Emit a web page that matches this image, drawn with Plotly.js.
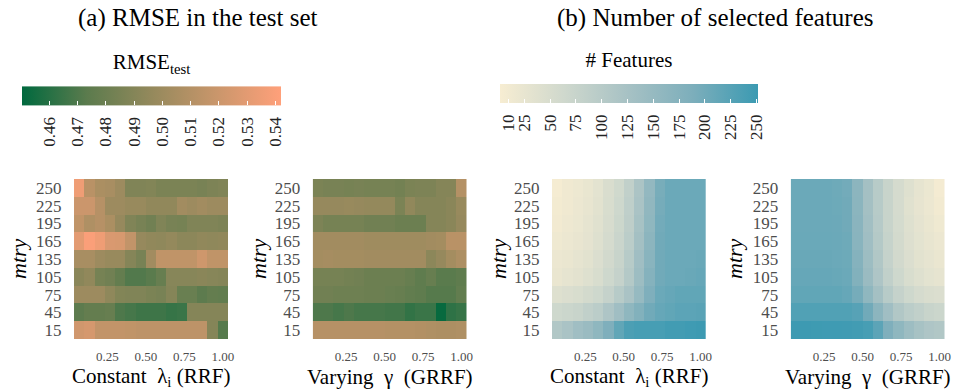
<!DOCTYPE html>
<html>
<head>
<meta charset="utf-8">
<script src="https://cdn.plot.ly/plotly-3.0.1.min.js"></script>
<style>html,body{margin:0;padding:0;background:#fff;}#chart{width:956px;height:392px;}</style>
</head>
<body>
<div id="chart"></div>
<script>
// x: lambda / gamma values (15 columns)
const xVals = [0.0667,0.1333,0.2,0.2667,0.3333,0.4,0.4667,0.5333,0.6,0.6667,0.7333,0.8,0.8667,0.9333,1.0];
// y: mtry categories (bottom to top)
const mtry = ['15','45','75','105','135','165','195','225','250'];

// RMSE test, RRF (constant lambda), rows follow mtry order
const rmseRRF = [
  [0.522,0.524,0.516,0.516,0.516,0.515,0.514,0.514,0.514,0.514,0.514,0.514,0.514,0.490,0.472],
  [0.474,0.477,0.477,0.478,0.470,0.468,0.466,0.466,0.466,0.464,0.465,0.490,0.490,0.490,0.490],
  [0.500,0.500,0.500,0.494,0.489,0.488,0.488,0.486,0.485,0.490,0.479,0.479,0.474,0.477,0.476],
  [0.492,0.495,0.484,0.482,0.477,0.471,0.471,0.473,0.478,0.491,0.491,0.491,0.492,0.491,0.490],
  [0.505,0.505,0.500,0.498,0.498,0.490,0.485,0.502,0.515,0.515,0.515,0.515,0.521,0.515,0.515],
  [0.530,0.540,0.535,0.526,0.525,0.516,0.497,0.495,0.494,0.496,0.493,0.493,0.495,0.494,0.495],
  [0.515,0.508,0.511,0.506,0.497,0.488,0.485,0.482,0.488,0.485,0.484,0.488,0.488,0.488,0.487],
  [0.520,0.520,0.511,0.500,0.500,0.498,0.498,0.495,0.495,0.495,0.502,0.500,0.502,0.500,0.500],
  [0.535,0.512,0.506,0.505,0.500,0.488,0.488,0.489,0.486,0.486,0.486,0.486,0.485,0.487,0.488]
];
// RMSE test, GRRF (varying gamma)
const rmseGRRF = [
  [0.511,0.511,0.511,0.511,0.511,0.511,0.511,0.510,0.510,0.510,0.509,0.508,0.507,0.507,0.508],
  [0.470,0.470,0.468,0.470,0.468,0.468,0.468,0.467,0.467,0.463,0.465,0.465,0.452,0.462,0.464],
  [0.482,0.482,0.481,0.481,0.481,0.480,0.480,0.479,0.478,0.476,0.475,0.472,0.472,0.472,0.476],
  [0.484,0.484,0.484,0.483,0.482,0.480,0.480,0.480,0.480,0.478,0.475,0.478,0.473,0.473,0.475],
  [0.503,0.504,0.503,0.503,0.503,0.502,0.502,0.502,0.502,0.502,0.502,0.493,0.497,0.503,0.507],
  [0.502,0.502,0.502,0.502,0.502,0.501,0.501,0.501,0.501,0.501,0.501,0.502,0.503,0.512,0.512],
  [0.487,0.484,0.484,0.484,0.484,0.482,0.482,0.482,0.480,0.480,0.480,0.490,0.490,0.492,0.497],
  [0.497,0.497,0.497,0.498,0.497,0.496,0.496,0.496,0.486,0.495,0.490,0.490,0.490,0.492,0.498],
  [0.486,0.485,0.485,0.484,0.485,0.484,0.484,0.484,0.483,0.486,0.487,0.487,0.490,0.490,0.510]
];
// Number of selected features, RRF
const featRRF = [
  [110,120,135,145,160,185,215,235,240,240,240,245,245,248,250],
  [65,70,75,85,95,115,135,160,180,200,210,215,220,220,222],
  [40,45,50,58,65,80,100,120,150,185,205,210,215,215,215],
  [22,28,33,40,50,65,80,105,140,175,200,205,205,207,210],
  [18,22,28,35,45,60,75,100,135,170,200,205,205,205,207],
  [14,18,24,30,40,55,72,95,130,165,200,205,205,205,205],
  [10,15,20,28,38,52,68,90,125,160,198,205,205,205,205],
  [8,13,18,25,35,50,65,88,120,158,195,205,205,205,205],
  [5,12,17,23,32,48,62,85,118,155,193,205,205,205,205]
];
// Number of selected features, GRRF
const featGRRF = [
  [250,250,249,248,248,247,245,240,220,185,160,140,125,115,110],
  [230,230,230,230,230,230,225,200,165,135,110,95,85,75,70],
  [215,215,215,215,215,210,195,160,130,100,80,65,55,48,45],
  [210,210,210,210,208,205,180,145,115,85,65,50,40,32,28],
  [207,207,207,207,205,203,175,140,110,80,60,45,35,28,22],
  [206,206,206,206,205,202,170,135,105,78,58,42,32,25,18],
  [205,205,205,205,204,200,168,132,102,75,56,40,30,22,14],
  [205,205,205,205,203,200,167,130,100,75,55,38,27,18,10],
  [205,205,205,205,202,198,165,130,100,75,55,40,28,20,6]
];

const rmseTicks = [0.46,0.47,0.48,0.49,0.50,0.51,0.52,0.53,0.54];
const featTicks = [10,25,50,75,100,125,150,175,200,225,250];

const serif = 'Liberation Serif';
const W = 956, H = 392;
const px = v => v / W;
const py = v => (H - v) / H;
const pad = '\u00a0';

const traces = [
  {type:'heatmap', x:xVals, y:mtry, z:rmseRRF, xaxis:'x', yaxis:'y', coloraxis:'coloraxis', hoverinfo:'skip'},
  {type:'heatmap', x:xVals, y:mtry, z:rmseGRRF, xaxis:'x2', yaxis:'y2', coloraxis:'coloraxis', hoverinfo:'skip'},
  {type:'heatmap', x:xVals, y:mtry, z:featRRF, xaxis:'x3', yaxis:'y3', coloraxis:'coloraxis2', hoverinfo:'skip'},
  {type:'heatmap', x:xVals, y:mtry, z:featGRRF, xaxis:'x4', yaxis:'y4', coloraxis:'coloraxis2', hoverinfo:'skip'}
];

const xDomains = [[74,228],[312.7,466.7],[552,705.7],[790.7,944.7]];
const yDomain = [py(339), py(179)];

function xAxis(d, anchor){
  return {
    domain:[px(d[0]), px(d[1])], anchor:anchor, range:[0.0333,1.0333],
    tickmode:'array', tickvals:[0.25,0.5,0.75,1.0], ticktext:['0.25','0.50','0.75','1.00'],
    showgrid:false, zeroline:false, showline:false,
    ticks:'outside', ticklen:5, tickcolor:'rgba(0,0,0,0)',
    tickfont:{family:serif, size:13, color:'#4d4d4d'}
  };
}
function yAxis(anchor){
  return {
    domain:yDomain, anchor:anchor, type:'category',
    tickmode:'array', tickvals:mtry, ticktext:mtry,
    showgrid:false, zeroline:false, showline:false,
    ticks:'outside', ticklen:8, tickcolor:'rgba(0,0,0,0)',
    tickfont:{family:serif, size:17, color:'#4d4d4d'}
  };
}

function cbar(title, cx, len, tickvals, ticktext){
  return {
    orientation:'h', x:px(cx), xanchor:'center', y:py(60), yanchor:'top', yref:'paper',
    len:len, lenmode:'pixels', thickness:19, thicknessmode:'pixels',
    outlinewidth:0, xpad:0, ypad:0,
    title:{text:title, side:'top', font:{family:serif, size:21, color:'#000'}},
    tickmode:'array', tickvals:tickvals, ticktext:ticktext, tickangle:-90,
    ticks:'inside', ticklen:4, tickcolor:'#ffffff', tickwidth:1,
    tickfont:{family:serif, size:17, color:'#222'}
  };
}

const annFont = {family:serif, size:25, color:'#000'};
const axFont = {family:serif, size:21, color:'#000'};
const annotations = [
  {text:'(a) RMSE in the test set', x:px(198), y:py(18), xref:'paper', yref:'paper', showarrow:false, font:annFont, xanchor:'center', yanchor:'middle'},
  {text:'(b) Number of selected features', x:px(715), y:py(18), xref:'paper', yref:'paper', showarrow:false, font:annFont, xanchor:'center', yanchor:'middle'},
  {text:'Constant  λ<sub>i</sub> (RRF)', x:px(151), y:py(377), xref:'paper', yref:'paper', showarrow:false, font:axFont, xanchor:'center', yanchor:'middle'},
  {text:'Varying  γ  (GRRF)', x:px(390), y:py(377), xref:'paper', yref:'paper', showarrow:false, font:axFont, xanchor:'center', yanchor:'middle'},
  {text:'Constant  λ<sub>i</sub> (RRF)', x:px(629), y:py(377), xref:'paper', yref:'paper', showarrow:false, font:axFont, xanchor:'center', yanchor:'middle'},
  {text:'Varying  γ  (GRRF)', x:px(868), y:py(377), xref:'paper', yref:'paper', showarrow:false, font:axFont, xanchor:'center', yanchor:'middle'}
];
[18, 258, 498, 734].forEach(cx => {
  annotations.push({text:'<i>mtry</i>', x:px(cx), y:py(259), xref:'paper', yref:'paper', showarrow:false, textangle:-90, font:{family:serif, size:22, color:'#000'}, xanchor:'center', yanchor:'middle'});
});

const layout = {
  width:W, height:H, margin:{l:0,r:0,t:0,b:0},
  font:{family:serif, color:'#000'},
  paper_bgcolor:'#fff', plot_bgcolor:'#fff', showlegend:false,
  xaxis:xAxis(xDomains[0],'y'), yaxis:yAxis('x'),
  xaxis2:xAxis(xDomains[1],'y2'), yaxis2:yAxis('x2'),
  xaxis3:xAxis(xDomains[2],'y3'), yaxis3:yAxis('x3'),
  xaxis4:xAxis(xDomains[3],'y4'), yaxis4:yAxis('x4'),
  coloraxis:{
    cmin:0.4503, cmax:0.542,
    colorscale:[[0,'#00693E'],[0.25,'rgb(91,123,77)'],[0.5,'rgb(148,137,92)'],[0.75,'rgb(201,150,107)'],[1,'#FFA07A']],
    colorbar:cbar('RMSE<sub>test</sub>', 151.5, 259, rmseTicks, rmseTicks.map(v=>v.toFixed(2)+pad))
  },
  coloraxis2:{
    cmin:1.5, cmax:251.5,
    colorscale:[[0,'rgb(247,237,210)'],[0.25,'rgb(207,216,205)'],[0.5,'rgb(166,193,196)'],[0.75,'rgb(124,174,187)'],[1,'#3B9AB2']],
    colorbar:cbar('# Features', 629, 258, featTicks, featTicks.map(v=>String(v)+pad))
  },
  annotations:annotations
};

Plotly.newPlot('chart', traces, layout, {displayModeBar:false, staticPlot:true});
</script>
</body>
</html>
